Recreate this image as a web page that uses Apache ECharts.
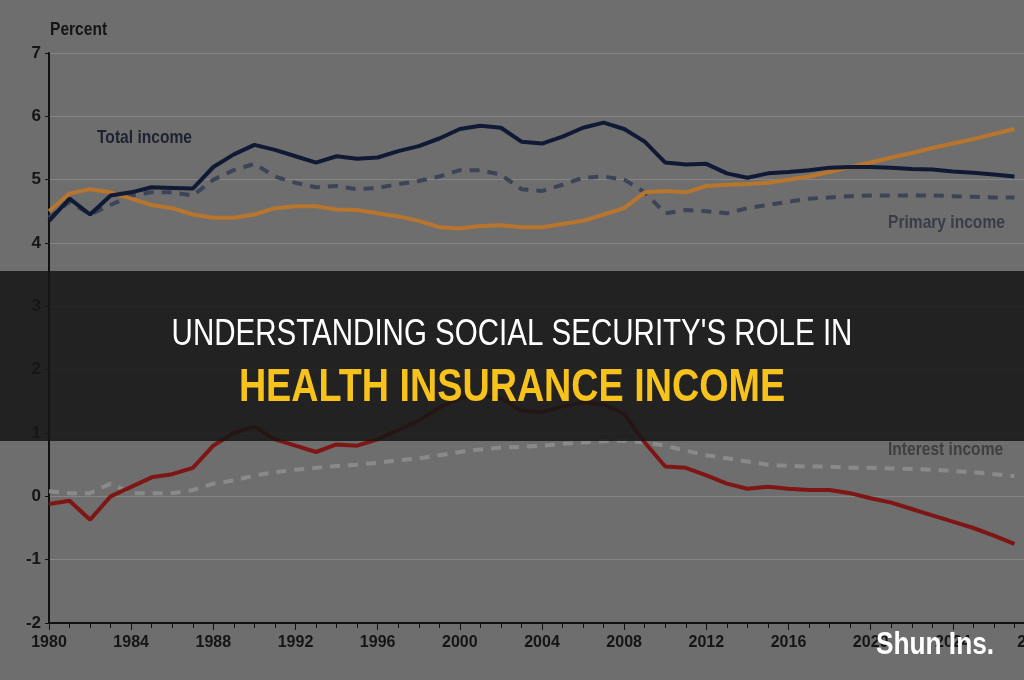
<!DOCTYPE html>
<html><head><meta charset="utf-8">
<script src="https://cdn.jsdelivr.net/npm/echarts@6/dist/echarts.min.js"></script>
<style>html,body{margin:0;padding:0;background:#5f5f5f}#c{width:1024px;height:680px}</style>
</head><body><div id="c"></div>
<script>
const years = [];
for (let y = 1980; y <= 2027; y++) years.push(y);
const totalIncome = [4.35,4.7,4.45,4.75,4.8,4.88,4.87,4.86,5.2,5.4,5.55,5.47,5.37,5.27,5.37,5.33,5.35,5.45,5.53,5.65,5.8,5.85,5.82,5.6,5.57,5.68,5.82,5.9,5.8,5.6,5.27,5.24,5.25,5.1,5.03,5.1,5.12,5.15,5.19,5.2,5.2,5.19,5.17,5.16,5.13,5.11,5.08,5.05];
const primaryIncome = [4.4,4.65,4.45,4.6,4.75,4.8,4.8,4.75,5.0,5.15,5.25,5.05,4.95,4.88,4.9,4.85,4.87,4.93,4.98,5.05,5.15,5.15,5.08,4.85,4.82,4.92,5.03,5.05,5.0,4.8,4.47,4.52,4.5,4.47,4.55,4.6,4.65,4.7,4.72,4.74,4.75,4.75,4.75,4.75,4.74,4.73,4.72,4.72];
const cost = [4.5,4.78,4.85,4.8,4.7,4.6,4.55,4.45,4.4,4.4,4.45,4.55,4.58,4.58,4.53,4.52,4.47,4.42,4.35,4.25,4.23,4.27,4.28,4.25,4.25,4.3,4.35,4.45,4.55,4.8,4.82,4.8,4.9,4.92,4.93,4.95,5.0,5.05,5.12,5.2,5.27,5.35,5.42,5.5,5.57,5.64,5.72,5.8];
const balance = [-0.12,-0.07,-0.37,0.0,0.15,0.3,0.35,0.45,0.8,1.0,1.1,0.9,0.8,0.7,0.82,0.8,0.9,1.05,1.2,1.4,1.55,1.6,1.55,1.35,1.33,1.42,1.48,1.45,1.3,0.85,0.47,0.45,0.33,0.2,0.12,0.15,0.12,0.1,0.1,0.05,-0.03,-0.1,-0.2,-0.3,-0.4,-0.5,-0.62,-0.75];
const interestIncome = [0.08,0.05,0.05,0.2,0.05,0.05,0.05,0.1,0.2,0.25,0.33,0.38,0.42,0.45,0.48,0.5,0.53,0.57,0.6,0.65,0.7,0.74,0.77,0.78,0.8,0.83,0.85,0.87,0.88,0.85,0.8,0.72,0.65,0.6,0.55,0.5,0.48,0.47,0.47,0.45,0.45,0.44,0.43,0.42,0.4,0.38,0.35,0.32];
const pair = a => years.map((y,i)=>[y,a[i]]);
const font = "'Liberation Sans',sans-serif";
const chart = echarts.init(document.getElementById('c'));
const line = (name,data,color,width,type,z) => ({name,type:'line',data:pair(data),symbol:'none',z,
  lineStyle:{color,width,type},animation:false});
const narrow = (x,y,text,fill,size,bold,align) => ({type:'text',x,y,scaleX:0.82,z:21,
  style:{text,fill,font:(bold?'bold ':'')+size+'px '+font,align:align||'left',verticalAlign:'middle'}});
chart.setOption({
  backgroundColor:'#6e6e6e',
  animation:false,
  grid:{left:49,top:53,width:986,height:570,outerBoundsMode:'none',containLabel:false},
  xAxis:{type:'value',min:1980,max:2028,interval:4,
    axisLine:{onZero:false,lineStyle:{color:'#111',width:2}},
    axisTick:{show:true,length:7,lineStyle:{color:'#111'}},
    minorTick:{show:true,splitNumber:4,length:5,lineStyle:{color:'#111'}},
    splitLine:{show:false},
    axisLabel:{color:'#151515',fontSize:16,fontWeight:'bold',fontFamily:font,margin:12,formatter:v=>String(v)}},
  yAxis:{type:'value',min:-2,max:7,interval:1,
    axisLine:{show:true,lineStyle:{color:'#111',width:2}},
    axisTick:{show:true,length:4,lineStyle:{color:'#111'}},
    splitLine:{lineStyle:{color:'#858585',width:1}},
    axisLabel:{color:'#151515',fontSize:17,fontWeight:'bold',fontFamily:font,margin:8}},
  series:[
    line('Interest income',interestIncome,'#8a8a8a',4,[10,8],2),
    line('Primary income',primaryIncome,'#3e4458',4,[10,8],2),
    line('Balance',balance,'#7e1616',4,'solid',3),
    line('Cost',cost,'#b8752d',4,'solid',3),
    line('Total income',totalIncome,'#101a35',4,'solid',4)
  ],
  graphic:[
    narrow(50,30,'Percent','#151515',19,true),
    narrow(97,138,'Total income','#1d2230',19,true),
    narrow(888,223,'Primary income','#3a3d48',19,true),
    narrow(888,450,'Interest income','#3f3f3f',19,true),
    {type:'rect',shape:{x:0,y:271,width:1024,height:170},style:{fill:'rgba(22,22,22,0.86)'},z:20},
    narrow(512,335,"UNDERSTANDING SOCIAL SECURITY'S ROLE IN",'#ffffff',36,false,'center'),
    narrow(512,388,'HEALTH INSURANCE INCOME','#f6c21b',46,true,'center'),
    narrow(935,645,'Shun Ins.','#ffffff',32,true,'center')
  ]
});
</script></body></html>
